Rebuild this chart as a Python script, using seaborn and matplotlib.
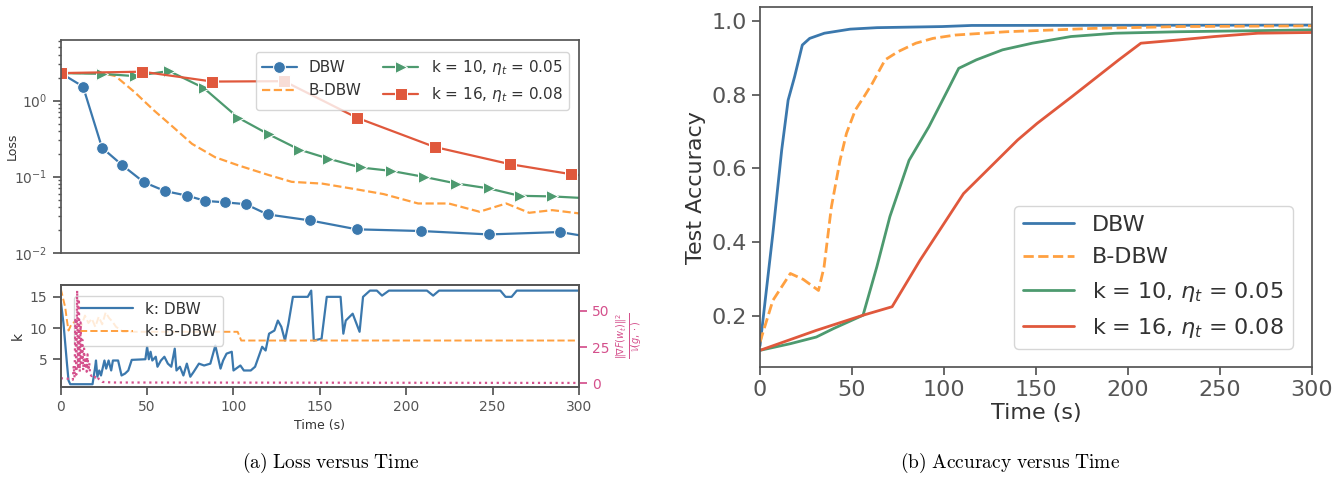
"""
Loss / k / accuracy versus time for DBW, B-DBW and fixed-k baselines
"""

import matplotlib
matplotlib.use("Agg")
import matplotlib.pyplot as plt
import seaborn as sns

# ---- colours ----
C_DBW = "#3b78ad"
C_BDBW = "#ffa040"
C_K10 = "#4d9a6f"
C_K16 = "#e0583c"
C_PINK = "#d4508c"

LABEL_K10 = r"k = 10, $\eta_t$ = 0.05"
LABEL_K16 = r"k = 16, $\eta_t$ = 0.08"

# ---- (a) loss, marker points (last point has no marker) ----
dbw_loss_t = [0, 12.9, 23.9, 35.7, 48.1, 60.5, 72.9, 83.8, 94.9, 107.1, 119.7,
              144.3, 171.4, 208.4, 247.9, 289.1, 300]
dbw_loss = [2.3, 1.53, 0.24, 0.141, 0.0846, 0.0645, 0.0565, 0.048, 0.046,
            0.0435, 0.0319, 0.0266, 0.0203, 0.0193, 0.0174, 0.0187, 0.017]

bdbw_loss_t = [0, 20, 26, 31.7, 42.8, 53.9, 65, 76, 89.4, 102.7, 120.4, 133.7,
               151.4, 171.4, 186.9, 206.9, 224.6, 242.4, 257.9, 271.2, 284.5, 300]
bdbw_loss = [2.3, 2.3, 2.25, 2.1, 1.29, 0.745, 0.45, 0.27, 0.18, 0.141, 0.105,
             0.0855, 0.081, 0.068, 0.059, 0.0444, 0.0444, 0.0346, 0.0444,
             0.0335, 0.0363, 0.0329]

k10_loss_t = [0, 23.9, 42.8, 62.7, 82.7, 102.7, 120.4, 138.1, 154.8, 173.6,
              191.4, 210.2, 229, 247.9, 265.6, 284.5, 300]
k10_loss = [2.3, 2.25, 2.1, 2.45, 1.47, 0.596, 0.36, 0.227, 0.173, 0.132,
            0.119, 0.0995, 0.0813, 0.070, 0.056, 0.055, 0.0527]

k16_loss_t = [0, 47.2, 87.8, 129.3, 171.4, 216.4, 260.1, 295.6, 300]
k16_loss = [2.3, 2.4, 1.78, 1.8, 0.596, 0.246, 0.146, 0.1076, 0.105]

# ---- (a) lower panel: k over time and gradient ratio ----
dbw_k_t = [0, 1.6, 3.6, 4.5, 5.5, 18.4, 19.8, 20.4, 21.2, 22.3, 23.3, 25.3,
           26.3, 27.7, 29.2, 30.2, 33.2, 35.2, 37.2, 39.1, 41.1, 49, 50, 51,
           52, 53, 55, 56, 58, 60, 62, 64, 66, 67, 69, 71, 73, 75, 77, 80, 83,
           86.6, 89.5, 92.5, 94, 96, 99, 100, 104, 106, 110, 112.5, 116.6,
           118.6, 120.6, 123.7, 125.7, 127.7, 129.8, 131.8, 134.4, 143, 145,
           146.5, 151, 154, 162, 163.6, 165, 169, 173, 175, 179, 183, 186,
           190, 212, 215.6, 219, 254.5, 257.5, 261, 264, 300]
dbw_k = [14.4, 10.7, 4.3, 1.6, 1.0, 1.0, 3.5, 4.8, 2.2, 3.2, 2.4, 4.8, 3.5,
         4.8, 3.2, 4.8, 4.8, 2.4, 2.7, 3.2, 4.9, 5.0, 7.0, 5.0, 6.2, 4.8, 5.4,
         3.8, 4.8, 5.4, 4.3, 3.8, 6.7, 3.2, 3.8, 2.4, 4.3, 2.2, 3.0, 4.3, 4.0,
         4.3, 7.2, 3.5, 4.8, 5.9, 6.2, 3.2, 4.0, 3.2, 3.2, 3.8, 7.0, 6.4, 9.1,
         9.6, 11.2, 10.2, 8.0, 10.7, 15.0, 15.0, 16.0, 8.0, 8.3, 15.0, 15.0,
         9.1, 11.2, 12.3, 9.4, 15.0, 16.0, 16.0, 15.2, 16.0, 16.0, 15.2, 16.0,
         16.0, 15.0, 15.0, 16.0, 16.0]

bdbw_k_t = [0, 2.6, 3.6, 4.5, 6, 8, 10, 12, 14, 16, 18, 20, 22, 24, 26, 28, 30,
            32, 34, 36, 102.4, 104.5, 300]
bdbw_k = [16.3, 13.3, 11.2, 9.6, 10.5, 11.0, 9.8, 10.4, 12.0, 10.8, 11.5, 10.2,
          11.8, 10.6, 12.5, 11.6, 11.0, 10.2, 9.8, 9.4, 9.4, 8.0, 8.0]

ratio_t = [0, 2, 4, 6, 7, 7.5, 8, 8.5, 9, 9.5, 10, 10.5, 11, 11.5, 12, 12.5, 13,
           13.5, 14, 14.5, 15, 15.5, 16, 16.5, 17, 18, 19, 20, 21, 22, 23, 24,
           30, 300]
ratio = [3.5, 3.4, 3.2, 3.0, 2.5, 12, 4, 45, 6, 64, 10, 58, 8, 42, 14, 30, 9,
         24, 12, 18, 8, 20, 9, 14, 6, 5, 6, 4, 5, 3, 2, 1, 0.6, 0.3]

# ---- (b) accuracy ----
dbw_acc_t = [0, 7, 11.8, 15.3, 18.8, 23, 27, 35, 49, 63.5, 99, 115, 300]
dbw_acc = [0.12, 0.424, 0.65, 0.785, 0.848, 0.934, 0.952, 0.966, 0.977, 0.981,
           0.984, 0.987, 0.988]

bdbw_acc_t = [0, 7, 16.5, 23.5, 31.8, 34.8, 38.8, 43.5, 47, 51.8, 56.5, 61, 68,
              75, 84.7, 94, 106, 134, 181, 228, 300]
bdbw_acc = [0.13, 0.243, 0.316, 0.30, 0.27, 0.333, 0.496, 0.622, 0.695, 0.758,
            0.794, 0.83, 0.894, 0.916, 0.939, 0.952, 0.961, 0.970, 0.979,
            0.984, 0.986]

k10_acc_t = [0, 16.5, 30.6, 40, 56, 63.5, 70.6, 81, 91.8, 102, 108, 117.6,
             131.8, 148, 169, 193, 228, 300]
k10_acc = [0.108, 0.126, 0.144, 0.167, 0.203, 0.334, 0.47, 0.622, 0.713, 0.812,
           0.871, 0.894, 0.921, 0.939, 0.957, 0.966, 0.97, 0.975]

k16_acc_t = [0, 30.6, 56, 71.8, 87, 110.6, 140, 150.6, 169.4, 195, 207, 228,
             247, 270.6, 300]
k16_acc = [0.108, 0.162, 0.203, 0.226, 0.352, 0.532, 0.677, 0.722, 0.794,
           0.894, 0.939, 0.948, 0.957, 0.966, 0.968]


def line(ax, t, y, **kw):
    sns.lineplot(x=t, y=y, ax=ax, estimator=None, sort=False, **kw)


sns.set_theme(style="ticks")
plt.rcParams["font.family"] = ["DejaVu Sans"]
plt.rcParams["axes.edgecolor"] = "#555555"
plt.rcParams["xtick.color"] = "#555555"
plt.rcParams["ytick.color"] = "#555555"
plt.rcParams["text.color"] = "#333333"
plt.rcParams["axes.labelcolor"] = "#333333"

fig = plt.figure(figsize=(13.38, 4.86), dpi=100)
ax_loss = fig.add_axes([0.0454, 0.480, 0.3873, 0.437])
ax_k = fig.add_axes([0.0454, 0.2043, 0.3873, 0.2093])
ax_acc = fig.add_axes([0.568, 0.2449, 0.4126, 0.740])

# ---- loss panel ----
line(ax_loss, dbw_loss_t, dbw_loss, color=C_DBW, marker="o", markersize=8.5,
     markevery=list(range(len(dbw_loss) - 1)), linewidth=1.6, label="DBW")
line(ax_loss, bdbw_loss_t, bdbw_loss, color=C_BDBW, linestyle="--",
     linewidth=1.6, label="B-DBW")
line(ax_loss, k10_loss_t, k10_loss, color=C_K10, marker=">", markersize=8.5,
     markevery=list(range(len(k10_loss) - 1)), linewidth=1.6, label=LABEL_K10)
line(ax_loss, k16_loss_t, k16_loss, color=C_K16, marker="s", markersize=8.5,
     markevery=list(range(len(k16_loss) - 1)), linewidth=1.6, label=LABEL_K16)
ax_loss.set_yscale("log")
ax_loss.set_ylim(0.01, 6.2)
ax_loss.set_xlim(0, 300)
ax_loss.set_xticks([])
ax_loss.set_ylabel("Loss", fontsize=9)
ax_loss.yaxis.set_label_coords(-0.082, 0.5)
ax_loss.tick_params(labelsize=10)
ax_loss.tick_params(axis="y", which="minor", length=2.5, left=True)
ax_loss.legend(loc="upper right", ncol=2, fontsize=11, columnspacing=1.4,
               handlelength=2.3, bbox_to_anchor=(0.995, 0.98))

# ---- k panel ----
line(ax_k, dbw_k_t, dbw_k, color=C_DBW, linewidth=1.6, label="k: DBW")
line(ax_k, bdbw_k_t, bdbw_k, color=C_BDBW, linestyle="--", linewidth=1.4,
     label="k: B-DBW")
ax_k.set_xlim(0, 300)
ax_k.set_ylim(0.6, 16.9)
ax_k.set_yticks([5, 10, 15])
ax_k.set_xticks([0, 50, 100, 150, 200, 250, 300])
ax_k.set_xlabel("Time (s)", fontsize=9)
ax_k.set_ylabel("k", fontsize=10)
ax_k.tick_params(labelsize=10)
ax_k.legend(loc="upper left", fontsize=11, handlelength=3.5,
            bbox_to_anchor=(0.01, 0.97))

ax_r = ax_k.twinx()
line(ax_r, ratio_t, ratio, color=C_PINK, linestyle=":", linewidth=1.6,
     legend=False)
ax_r.set_ylim(-2.3, 67.7)
ax_r.set_yticks([0, 25, 50])
ax_r.tick_params(axis="y", colors=C_PINK, labelsize=10)
ax_r.set_ylabel(r"$\frac{\|\nabla F(w_t)\|^2}{\mathbb{V}(g,\cdot)}$",
                color=C_PINK, fontsize=10, labelpad=3)

# ---- accuracy panel ----
line(ax_acc, dbw_acc_t, dbw_acc, color=C_DBW, linewidth=2, label="DBW")
line(ax_acc, bdbw_acc_t, bdbw_acc, color=C_BDBW, linestyle="--", linewidth=2,
     label="B-DBW")
line(ax_acc, k10_acc_t, k10_acc, color=C_K10, linewidth=2, label=LABEL_K10)
line(ax_acc, k16_acc_t, k16_acc, color=C_K16, linewidth=2, label=LABEL_K16)
ax_acc.set_xlim(0, 300)
ax_acc.set_ylim(0.063, 1.036)
ax_acc.set_xticks([0, 50, 100, 150, 200, 250, 300])
ax_acc.set_yticks([0.2, 0.4, 0.6, 0.8, 1.0])
ax_acc.set_xlabel("Time (s)", fontsize=16, labelpad=2)
ax_acc.set_ylabel("Test Accuracy", fontsize=16)
ax_acc.tick_params(labelsize=16)
ax_acc.legend(loc="lower right", fontsize=16, labelspacing=0.55,
              handlelength=2.3, bbox_to_anchor=(0.985, 0.02))

# ---- captions ----
fig.text(0.247, 0.047, r"$\mathrm{(a)\ Loss\ versus\ Time}$", ha="center",
         va="center", fontsize=14, math_fontfamily="cm", color="black")
fig.text(0.755, 0.047, r"$\mathrm{(b)\ Accuracy\ versus\ Time}$",
         ha="center", va="center", fontsize=14, math_fontfamily="cm",
         color="black")

plt.savefig("out.png", dpi=100)
plt.close()
